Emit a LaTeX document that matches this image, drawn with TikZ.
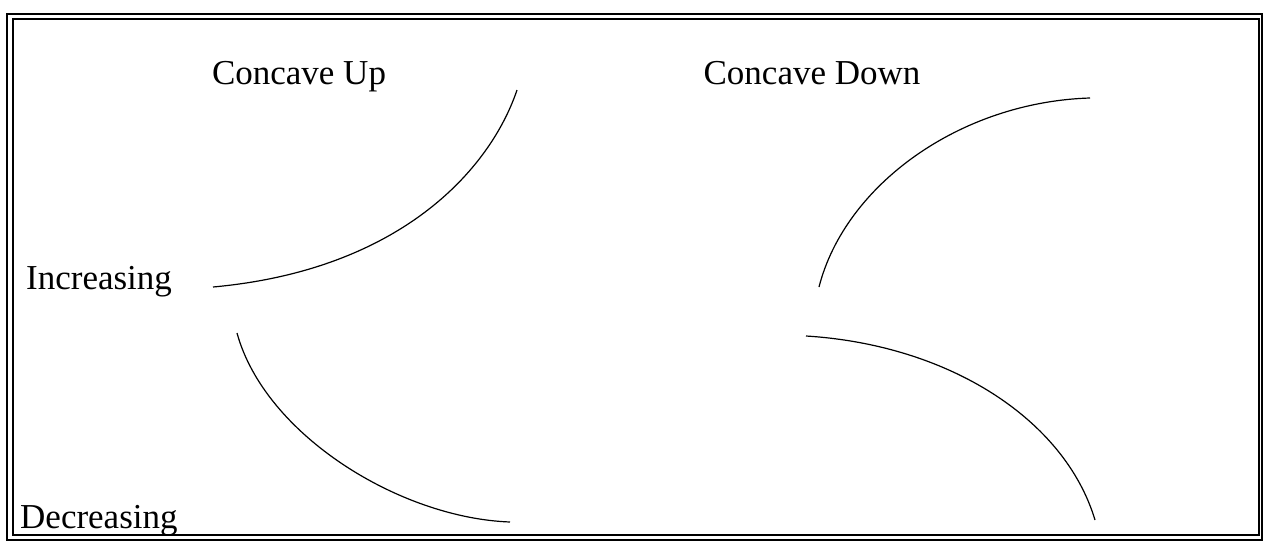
\documentclass[tikz,border=0pt]{standalone}
\usepackage{fontspec}
\setmainfont{Liberation Serif}
\usetikzlibrary{positioning}

\begin{document}
\begin{tikzpicture}[x=1pt,y=-1pt,
    lbl/.style={font=\fontsize{35}{40}\selectfont, inner sep=0pt},
    arcline/.style={line width=1.2pt}]
        \useasboundingbox (0,0) rectangle (1265,544);
        % double frame
        \draw[line width=2.4pt] (7,14) rectangle (1262,540);
        \draw[line width=2pt] (13,19) rectangle (1259,535);
        % headings
        \node[lbl, anchor=base] (up) at (299,84) {Concave Up};
        \node[lbl, anchor=base] (down) at (812,84) {Concave Down};
        \node[lbl, anchor=base west] (inc) at (26,289) {Increasing};
        \node[lbl, anchor=base west] (dec) at (20,528) {Decreasing};
        % the four curves
        \draw[arcline] (213,287) .. controls (400,270) and (490,170) .. (517,90);
        \draw[arcline] (819,287) .. controls (845,185) and (960,102) .. (1090,98);
        \draw[arcline] (237,333) .. controls (265,435) and (400,518) .. (510,522);
        \draw[arcline] (806,336) .. controls (950,345) and (1065,420) .. (1095,520);
    \end{tikzpicture}
\end{document}
